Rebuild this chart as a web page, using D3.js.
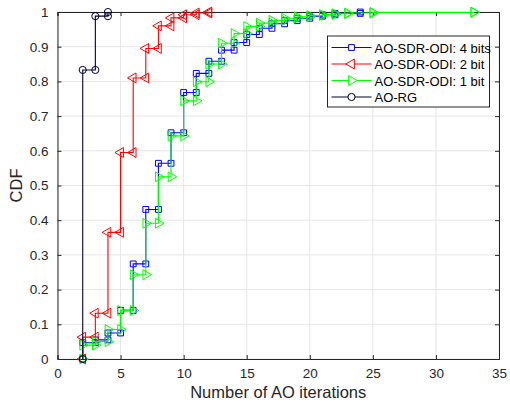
<!DOCTYPE html>
<html>
<head>
<meta charset="utf-8">
<script src="https://cdn.jsdelivr.net/npm/d3@7"></script>
<style>
  body { margin: 0; background: #fff; }
  text { font-family: "Liberation Sans", Arial, sans-serif; }
</style>
</head>
<body>
<div id="chart"></div>
<script>
// iterations at which each empirical CDF jumps, and the CDF after the jump
const bits4X = [2, 3, 4, 5, 6, 7, 8, 9, 10, 11, 12, 13, 14, 15, 16, 17, 18, 19, 20, 21, 22, 24];
const bits4F = [0.047, 0.055, 0.075, 0.14, 0.274, 0.431, 0.564, 0.652, 0.768, 0.823, 0.858, 0.89, 0.912, 0.935, 0.953, 0.966, 0.975, 0.982, 0.988, 0.992, 0.996, 1.0];

const bits2X = [2, 3, 4, 5, 6, 7, 8, 9, 10, 11, 12];
const bits2F = [0.063, 0.132, 0.365, 0.595, 0.81, 0.895, 0.96, 0.983, 0.992, 0.997, 1.0];

const bits1X = [2, 3, 4, 5, 6, 7, 8, 9, 10, 11, 12, 13, 14, 15, 16, 17, 18, 19, 20, 21, 22, 23, 25, 33];
const bits1F = [0.04, 0.05, 0.085, 0.14, 0.243, 0.391, 0.525, 0.643, 0.744, 0.799, 0.85, 0.91, 0.938, 0.958, 0.968, 0.976, 0.982, 0.986, 0.99, 0.993, 0.995, 0.997, 0.999, 1.0];

const rgX = [2, 3, 4];
const rgF = [0.833, 0.988, 1.0];

const seriesNames = ["AO-SDR-ODI: 4 bits", "AO-SDR-ODI: 2 bit", "AO-SDR-ODI: 1 bit", "AO-RG"];
const xTicks = [0, 5, 10, 15, 20, 25, 30, 35];
const yTicks = [0, 0.1, 0.2, 0.3, 0.4, 0.5, 0.6, 0.7, 0.8, 0.9, 1];

const svgWidth = 510;
const svgHeight = 405;
const margin = { top: 12, right: 11, bottom: 46, left: 57.5 };
const width = svgWidth - margin.left - margin.right;
const height = svgHeight - margin.top - margin.bottom;

const svg = d3.select("#chart").append("svg")
  .attr("width", svgWidth)
  .attr("height", svgHeight);

const chartGroup = svg.append("g")
  .attr("transform", `translate(${margin.left}, ${margin.top})`);

const x = d3.scaleLinear().domain([0, 35]).range([0, width]);
const y = d3.scaleLinear().domain([0, 1]).range([height, 0]);

// grid
chartGroup.append("g")
  .selectAll("line.vg").data(xTicks).enter().append("line")
  .attr("x1", d => x(d)).attr("x2", d => x(d))
  .attr("y1", 0).attr("y2", height)
  .attr("stroke", "#e6e6e6").attr("stroke-width", 1);
chartGroup.append("g")
  .selectAll("line.hg").data(yTicks).enter().append("line")
  .attr("x1", 0).attr("x2", width)
  .attr("y1", d => y(d)).attr("y2", d => y(d))
  .attr("stroke", "#e6e6e6").attr("stroke-width", 1);

// axes, ticks pointing inward like matlab
const axisColor = "#262626";
const bottomAxis = d3.axisBottom(x).tickValues(xTicks).tickSize(-4).tickPadding(9).tickFormat(d3.format("d"));
const leftAxis = d3.axisLeft(y).tickValues(yTicks).tickSize(-4).tickPadding(9).tickFormat(d => d === 0 || d === 1 ? d : d3.format(".1f")(d));
const topAxis = d3.axisTop(x).tickValues(xTicks).tickSize(-4).tickFormat("");
const rightAxis = d3.axisRight(y).tickValues(yTicks).tickSize(-4).tickFormat("");

chartGroup.append("g").attr("transform", `translate(0, ${height})`).call(bottomAxis);
chartGroup.append("g").call(leftAxis);
chartGroup.append("g").call(topAxis);
chartGroup.append("g").attr("transform", `translate(${width}, 0)`).call(rightAxis);

chartGroup.selectAll(".domain").attr("stroke", axisColor);
chartGroup.selectAll(".tick line").attr("stroke", axisColor);
chartGroup.selectAll(".tick text")
  .attr("fill", axisColor)
  .style("font-size", "13.5px")
  .style("font-family", "'Liberation Sans', Arial, sans-serif");

// stairs vertices for an empirical CDF
function stairs(xs, fs) {
  const pts = [[xs[0], 0]];
  xs.forEach((v, i) => {
    if (i > 0) pts.push([v, fs[i - 1]]);
    pts.push([v, fs[i]]);
  });
  return pts;
}

const series = [
  { name: seriesNames[0], xs: bits4X, fs: bits4F, color: "#0000ff", symbol: d3.symbolSquare, size: 34, rot: 0 },
  { name: seriesNames[1], xs: bits2X, fs: bits2F, color: "#ff0000", symbol: d3.symbolTriangle, size: 42, rot: -90 },
  { name: seriesNames[2], xs: bits1X, fs: bits1F, color: "#00ff00", symbol: d3.symbolTriangle, size: 42, rot: 90 },
  { name: seriesNames[3], xs: rgX, fs: rgF, color: "#000033", symbol: d3.symbolCircle, size: 40, rot: 0 }
];

const line = d3.line().x(d => x(d[0])).y(d => y(d[1]));

series.forEach(s => {
  const pts = stairs(s.xs, s.fs);
  const g = chartGroup.append("g");
  g.append("path")
    .attr("d", line(pts))
    .attr("fill", "none")
    .attr("stroke", s.color)
    .attr("stroke-width", 1.1);
  g.selectAll("path.mk").data(pts).enter().append("path")
    .attr("class", "mk")
    .attr("d", d3.symbol().type(s.symbol).size(s.size))
    .attr("transform", d => `translate(${x(d[0])}, ${y(d[1])}) rotate(${s.rot})`)
    .attr("fill", "none")
    .attr("stroke", s.color)
    .attr("stroke-width", 1);
});

// axis labels
svg.append("text")
  .attr("x", margin.left + width / 2)
  .attr("y", 398)
  .attr("text-anchor", "middle")
  .attr("fill", axisColor)
  .style("font-size", "16.5px")
  .text("Number of AO iterations");

svg.append("text")
  .attr("transform", `translate(22, ${margin.top + height / 2}) rotate(-90)`)
  .attr("text-anchor", "middle")
  .attr("fill", axisColor)
  .style("font-size", "16.5px")
  .text("CDF");

// legend
const legend = svg.append("g").attr("transform", "translate(327.5, 36)");
legend.append("rect")
  .attr("width", 162).attr("height", 71)
  .attr("fill", "#fff").attr("stroke", axisColor).attr("stroke-width", 1);

series.forEach((s, i) => {
  const ly = 11.5 + i * 16.5;
  const row = legend.append("g").attr("transform", `translate(0, ${ly})`);
  row.append("line")
    .attr("x1", 4).attr("x2", 44)
    .attr("stroke", s.color).attr("stroke-width", 1.1);
  row.append("path")
    .attr("d", d3.symbol().type(s.symbol).size(s.size))
    .attr("transform", `translate(24, 0) rotate(${s.rot})`)
    .attr("fill", "#fff")
    .attr("stroke", s.color);
  row.append("text")
    .attr("x", 47).attr("y", 5)
    .attr("fill", "#000")
    .style("font-size", "13px")
    .text(s.name);
});
</script>
</body>
</html>
